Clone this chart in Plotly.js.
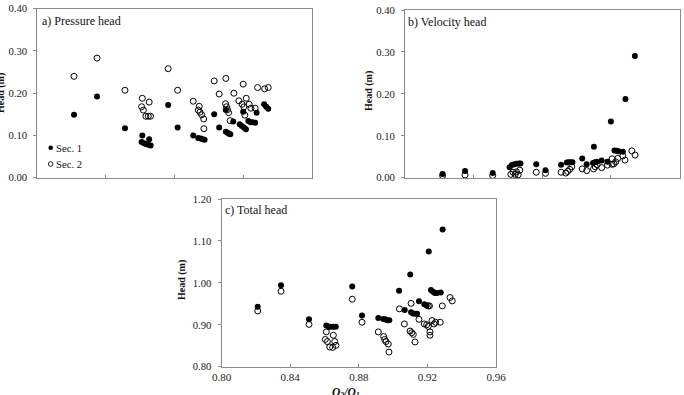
<!DOCTYPE html>
<html>
<head>
<meta charset="utf-8">
<script src="https://cdn.plot.ly/plotly-3.0.1.min.js"></script>
<style>
  html, body { margin: 0; padding: 0; background: #fff; }
  #chart { width: 684px; height: 395px; }
</style>
</head>
<body>
<div id="chart"></div>
<script>
// ---- a) Pressure head ----
const presX1 = [0.8214, 0.8348, 0.8511, 0.8612, 0.8652, 0.8608, 0.8622, 0.8633, 0.8647, 0.8661,
                0.8763, 0.8818, 0.8909, 0.8938, 0.8952, 0.8964, 0.8975, 0.9031, 0.9060, 0.9099,
                0.9099, 0.9111, 0.9118, 0.9125, 0.9142, 0.9180, 0.9192, 0.9204, 0.9216, 0.9200,
                0.9230, 0.9243, 0.9255, 0.9270, 0.9278, 0.9322, 0.9334, 0.9346];
const presY1 = [0.149, 0.192, 0.117, 0.0996, 0.091, 0.0846, 0.0815, 0.080, 0.078, 0.076,
                0.172, 0.1186, 0.0996, 0.094, 0.0925, 0.091, 0.090, 0.150, 0.1186, 0.160,
                0.109, 0.106, 0.104, 0.103, 0.133, 0.1266, 0.1226, 0.1186, 0.1147, 0.156,
                0.1344, 0.131, 0.131, 0.130, 0.154, 0.174, 0.168, 0.163];
const presX2 = [0.8214, 0.8348, 0.8511, 0.8612, 0.8652, 0.8608, 0.8618, 0.8633, 0.8647, 0.8660,
                0.8763, 0.8818, 0.8909, 0.8944, 0.8938, 0.8948, 0.8958, 0.8970, 0.8971, 0.9031,
                0.9060, 0.9099, 0.9097, 0.9103, 0.9109, 0.9115, 0.9124, 0.9146, 0.9175, 0.9194,
                0.9200, 0.9204, 0.9210, 0.9218, 0.9235, 0.9245, 0.9270, 0.9284, 0.9325, 0.9346];
const presY2 = [0.240, 0.283, 0.207, 0.188, 0.179, 0.168, 0.160, 0.1455, 0.1455, 0.1455,
                0.258, 0.207, 0.181, 0.169, 0.160, 0.155, 0.149, 0.139, 0.116, 0.229,
                0.198, 0.235, 0.175, 0.168, 0.161, 0.154, 0.135, 0.200, 0.182, 0.174,
                0.2214, 0.1676, 0.148, 0.188, 0.174, 0.1645, 0.1645, 0.2134, 0.2103, 0.2134];

// ---- b) Velocity head ----
const velX1 = [0.8219, 0.8350, 0.8511, 0.8610, 0.8623, 0.8637, 0.8650, 0.8664, 0.8673, 0.8765,
               0.8819, 0.8910, 0.8943, 0.8954, 0.8966, 0.8976, 0.9033, 0.9059, 0.9101, 0.9096,
               0.9107, 0.9118, 0.9146, 0.9180, 0.9200, 0.9221, 0.9233, 0.9244, 0.9270, 0.9285,
               0.9340];
const velY1 = [0.009, 0.016, 0.011, 0.025, 0.030, 0.032, 0.033, 0.034, 0.034, 0.032,
               0.018, 0.031, 0.036, 0.037, 0.037, 0.037, 0.046, 0.032, 0.074, 0.035,
               0.037, 0.038, 0.041, 0.038, 0.134, 0.065, 0.064, 0.063, 0.062, 0.188,
               0.290];
const velX2 = [0.8219, 0.8350, 0.8511, 0.8617, 0.8630, 0.8642, 0.8650, 0.8660, 0.8669, 0.8765,
               0.8819, 0.8910, 0.8937, 0.8948, 0.8960, 0.8972, 0.9033, 0.9059, 0.9099, 0.9109,
               0.9120, 0.9146, 0.9180, 0.9207, 0.9207, 0.9217, 0.9228, 0.9240, 0.9270, 0.9282,
               0.9322, 0.9341];
const velY2 = [0.005, 0.0065, 0.005, 0.008, 0.013, 0.008, 0.014, 0.007, 0.018, 0.013,
               0.0105, 0.013, 0.011, 0.015, 0.020, 0.026, 0.021, 0.017, 0.021, 0.026,
               0.031, 0.024, 0.030, 0.032, 0.045, 0.033, 0.038, 0.046, 0.052, 0.042,
               0.064, 0.054];

// ---- c) Total head ----
const totX1 = [0.8211, 0.8347, 0.8510, 0.8611, 0.8625, 0.8638, 0.8652, 0.8666, 0.8762, 0.8819,
               0.8914, 0.8943, 0.8955, 0.8966, 0.8978, 0.9035, 0.9068, 0.9100, 0.9105, 0.9116,
               0.9128, 0.9140, 0.9151, 0.9182, 0.9196, 0.9208, 0.9221, 0.9233, 0.9244, 0.9256,
               0.9278, 0.9289];
const totY1 = [0.943, 0.994, 0.913, 0.898, 0.895, 0.895, 0.895, 0.895, 0.991, 0.922,
               0.916, 0.914, 0.913, 0.911, 0.911, 0.981, 0.935, 1.020, 0.930, 0.927,
               0.926, 0.926, 0.956, 0.949, 0.946, 1.075, 0.983, 0.979, 0.976, 0.976,
               0.977, 1.127];
const totX2 = [0.8211, 0.8347, 0.8510, 0.8611, 0.8605, 0.8617, 0.8631, 0.8648, 0.8652, 0.8660,
               0.8667, 0.8762, 0.8819, 0.8914, 0.8945, 0.8951, 0.8959, 0.8972, 0.8976, 0.9037,
               0.9066, 0.9105, 0.9099, 0.9109, 0.9118, 0.9128, 0.9151, 0.9182, 0.9196, 0.9205,
               0.9205, 0.9212, 0.9215, 0.9215, 0.9227, 0.9239, 0.9248, 0.9275, 0.9287, 0.9332,
               0.9345];
const totY2 = [0.933, 0.980, 0.901, 0.883, 0.865, 0.860, 0.847, 0.846, 0.875, 0.860,
               0.851, 0.961, 0.906, 0.883, 0.872, 0.865, 0.860, 0.854, 0.835, 0.938,
               0.902, 0.951, 0.885, 0.881, 0.877, 0.859, 0.913, 0.902, 0.900, 0.896,
               0.945, 0.945, 0.883, 0.875, 0.910, 0.902, 0.906, 0.906, 0.945, 0.965,
               0.957];

const seriesNames = ['Sec. 1', 'Sec. 2'];
const panelTitles = ['a) Pressure head', 'b) Velocity head', 'c) Total head'];
const yTitle = 'Head (m)';
const xTitle = '<i>Q</i><sub><i>3</i></sub><i>/Q</i><sub><i>1</i></sub>';

// page geometry helpers (pixel -> paper fraction)
const W = 684, H = 395;
const px = v => v / W;
const py = v => 1 - v / H;

const FONT = 'Liberation Serif, Times New Roman, serif';
const AXIS_GREY = '#8a8a8a';

const filled = { symbol: 'circle', size: 6, color: '#000', line: { width: 0 } };
const hollow = { symbol: 'circle-open', size: 6, color: '#000', line: { width: 1 } };

function pts(x, y, name, marker, xa, ya) {
  return { type: 'scatter', mode: 'markers', x, y, name, marker,
           xaxis: xa, yaxis: ya, cliponaxis: false, showlegend: false, hoverinfo: 'x+y' };
}

const data = [
  pts(presX2, presY2, seriesNames[1], hollow, 'x', 'y'),
  pts(presX1, presY1, seriesNames[0], filled, 'x', 'y'),
  pts(velX2, velY2, seriesNames[1], hollow, 'x2', 'y2'),
  pts(velX1, velY1, seriesNames[0], filled, 'x2', 'y2'),
  pts(totX2, totY2, seriesNames[1], hollow, 'x3', 'y3'),
  pts(totX1, totY1, seriesNames[0], filled, 'x3', 'y3')
];

function xAxis(domain, anchor, labels) {
  return {
    domain, anchor, range: [0.80, 0.96], dtick: 0.04, tick0: 0.80, tickformat: '.2f',
    showgrid: false, zeroline: false, showline: true, mirror: true,
    linecolor: AXIS_GREY, linewidth: 1, ticks: 'inside', ticklen: 3, tickcolor: AXIS_GREY,
    showticklabels: labels, tickfont: { family: FONT, size: 11, color: '#222' }
  };
}
function yAxis(domain, anchor, range) {
  return {
    domain, anchor, range, dtick: 0.10, tick0: range[0], tickformat: '.2f',
    showgrid: false, zeroline: false, showline: true, mirror: true,
    linecolor: AXIS_GREY, linewidth: 1, ticks: 'outside', ticklen: 3, tickcolor: AXIS_GREY,
    ticklabelstandoff: 4,
    tickfont: { family: FONT, size: 10.7, color: '#222' }
  };
}

const annText = (text, x, y, opts) => Object.assign({
  text, x: px(x), y: py(y), xref: 'paper', yref: 'paper', showarrow: false,
  font: { family: FONT, size: 12, color: '#111' }
}, opts);

const annotations = [
  annText(panelTitles[0], 40, 21, { xanchor: 'left', yanchor: 'middle' }),
  annText(panelTitles[1], 406, 22.5, { xanchor: 'left', yanchor: 'middle' }),
  annText(panelTitles[2], 223, 210.5, { xanchor: 'left', yanchor: 'middle' }),
  annText('<b>' + yTitle + '</b>', 1, 93, { textangle: -90, xanchor: 'center', yanchor: 'middle',
          font: { family: FONT, size: 10, color: '#111' } }),
  annText('<b>' + yTitle + '</b>', 369, 91, { textangle: -90, xanchor: 'center', yanchor: 'middle',
          font: { family: FONT, size: 10, color: '#111' } }),
  annText('<b>' + yTitle + '</b>', 182, 280, { textangle: -90, xanchor: 'center', yanchor: 'middle',
          font: { family: FONT, size: 10, color: '#111' } }),
  annText('<b>' + xTitle + '</b>', 346, 384, { xanchor: 'center', yanchor: 'top',
          font: { family: FONT, size: 11.5, color: '#111' } }),
  annText(seriesNames[0], 54, 147.7, { xanchor: 'left', yanchor: 'middle',
          font: { family: FONT, size: 10.7, color: '#111' } }),
  annText(seriesNames[1], 54, 164, { xanchor: 'left', yanchor: 'middle',
          font: { family: FONT, size: 10.7, color: '#111' } })
];

// legend key symbols
const r = 2.3;
const shapes = [
  { type: 'circle', xref: 'paper', yref: 'paper', x0: px(50.7 - r), x1: px(50.7 + r),
    y0: py(147.7 + r), y1: py(147.7 - r), fillcolor: '#000', line: { width: 0 } },
  { type: 'circle', xref: 'paper', yref: 'paper', x0: px(50.7 - r), x1: px(50.7 + r),
    y0: py(164 + r), y1: py(164 - r), fillcolor: 'rgba(0,0,0,0)', line: { color: '#000', width: 0.9 } }
];

const layout = {
  width: W, height: H,
  margin: { l: 0, r: 0, t: 0, b: 0 },
  paper_bgcolor: '#fff', plot_bgcolor: '#fff',
  font: { family: FONT, color: '#111' },
  showlegend: false,
  xaxis:  xAxis([px(37.3), px(311.8)], 'y', false),
  yaxis:  yAxis([py(177.7), py(8.7)], 'x', [0, 0.40]),
  xaxis2: xAxis([px(405), px(679.5)], 'y2', false),
  yaxis2: yAxis([py(177.7), py(10)], 'x2', [0, 0.40]),
  xaxis3: xAxis([px(221.5), px(496)], 'y3', true),
  yaxis3: yAxis([py(366.7), py(199)], 'x3', [0.80, 1.20]),
  annotations, shapes
};

Plotly.newPlot('chart', data, layout, { displayModeBar: false, staticPlot: true });
</script>
</body>
</html>
